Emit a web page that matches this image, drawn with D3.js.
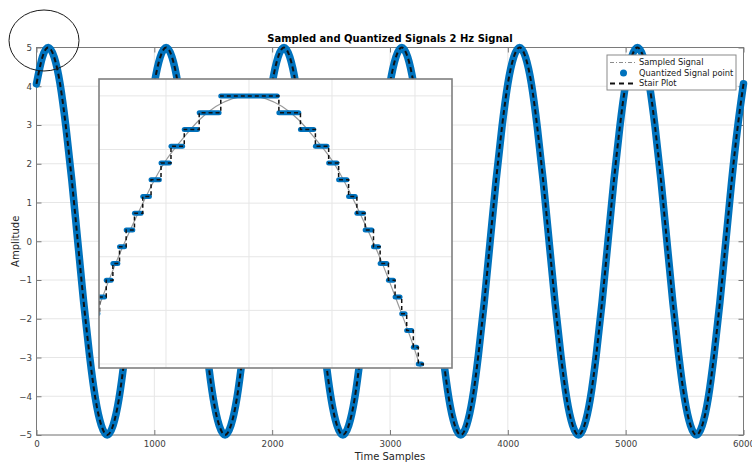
<!DOCTYPE html>
<html>
<head>
<meta charset="utf-8">
<script src="https://cdn.jsdelivr.net/npm/d3@7"></script>
<style>
  html, body { margin: 0; padding: 0; background: #fff; }
  svg { display: block; font-family: "DejaVu Sans", sans-serif; }
</style>
</head>
<body>
<svg id="chart" width="752" height="463"></svg>
<script>
// ---- overview signal: every 50th sample of the 6000-sample record ----
const sampleIndex = [
  0, 50, 100, 150, 200, 250, 300, 350, 400, 450, 500, 550, 600, 650, 700, 750, 800, 850, 900, 950,
  1000, 1050, 1100, 1150, 1200, 1250, 1300, 1350, 1400, 1450, 1500, 1550, 1600, 1650, 1700, 1750, 1800, 1850, 1900, 1950,
  2000, 2050, 2100, 2150, 2200, 2250, 2300, 2350, 2400, 2450, 2500, 2550, 2600, 2650, 2700, 2750, 2800, 2850, 2900, 2950,
  3000, 3050, 3100, 3150, 3200, 3250, 3300, 3350, 3400, 3450, 3500, 3550, 3600, 3650, 3700, 3750, 3800, 3850, 3900, 3950,
  4000, 4050, 4100, 4150, 4200, 4250, 4300, 4350, 4400, 4450, 4500, 4550, 4600, 4650, 4700, 4750, 4800, 4850, 4900, 4950,
  5000, 5050, 5100, 5150, 5200, 5250, 5300, 5350, 5400, 5450, 5500, 5550, 5600, 5650, 5700, 5750, 5800, 5850, 5900, 5950,
  6000
];
const sampledSignal = [
  4.05, 4.76, 5, 4.76, 4.05, 2.94, 1.55, 0, -1.55, -2.94, -4.05, -4.76, -5, -4.76, -4.05, -2.94, -1.55, 0, 1.55, 2.94,
  4.05, 4.76, 5, 4.76, 4.05, 2.94, 1.55, 0, -1.55, -2.94, -4.05, -4.76, -5, -4.76, -4.05, -2.94, -1.55, 0, 1.55, 2.94,
  4.05, 4.76, 5, 4.76, 4.05, 2.94, 1.55, 0, -1.55, -2.94, -4.05, -4.76, -5, -4.76, -4.05, -2.94, -1.55, 0, 1.55, 2.94,
  4.05, 4.76, 5, 4.76, 4.05, 2.94, 1.55, 0, -1.55, -2.94, -4.05, -4.76, -5, -4.76, -4.05, -2.94, -1.55, 0, 1.55, 2.94,
  4.05, 4.76, 5, 4.76, 4.05, 2.94, 1.55, 0, -1.55, -2.94, -4.05, -4.76, -5, -4.76, -4.05, -2.94, -1.55, 0, 1.55, 2.94,
  4.05, 4.76, 5, 4.76, 4.05, 2.94, 1.55, 0, -1.55, -2.94, -4.05, -4.76, -5, -4.76, -4.05, -2.94, -1.55, 0, 1.55, 2.94,
  4.05
];
const quantizedSignal = [
  4.0625, 4.75, 5, 4.75, 4.0625, 2.9375, 1.5625, 0, -1.5625, -2.9375, -4.0625, -4.75, -5, -4.75, -4.0625, -2.9375, -1.5625, 0, 1.5625, 2.9375,
  4.0625, 4.75, 5, 4.75, 4.0625, 2.9375, 1.5625, 0, -1.5625, -2.9375, -4.0625, -4.75, -5, -4.75, -4.0625, -2.9375, -1.5625, 0, 1.5625, 2.9375,
  4.0625, 4.75, 5, 4.75, 4.0625, 2.9375, 1.5625, 0, -1.5625, -2.9375, -4.0625, -4.75, -5, -4.75, -4.0625, -2.9375, -1.5625, 0, 1.5625, 2.9375,
  4.0625, 4.75, 5, 4.75, 4.0625, 2.9375, 1.5625, 0, -1.5625, -2.9375, -4.0625, -4.75, -5, -4.75, -4.0625, -2.9375, -1.5625, 0, 1.5625, 2.9375,
  4.0625, 4.75, 5, 4.75, 4.0625, 2.9375, 1.5625, 0, -1.5625, -2.9375, -4.0625, -4.75, -5, -4.75, -4.0625, -2.9375, -1.5625, 0, 1.5625, 2.9375,
  4.0625, 4.75, 5, 4.75, 4.0625, 2.9375, 1.5625, 0, -1.5625, -2.9375, -4.0625, -4.75, -5, -4.75, -4.0625, -2.9375, -1.5625, 0, 1.5625, 2.9375,
  4.0625
];
const xTicks = [0, 1000, 2000, 3000, 4000, 5000, 6000];
const yTicks = [-5, -4, -3, -2, -1, 0, 1, 2, 3, 4, 5];

// ---- magnified view of the first crest (samples ~10..220) ----
const detailSamples = [0, 10, 20, 30, 40, 50, 60, 70, 80, 90, 100, 110, 120, 130, 140, 150, 160, 170, 180, 190, 200, 210, 220, 230];
const detailSignal  = [4.05, 4.22, 4.38, 4.52, 4.65, 4.76, 4.84, 4.91, 4.96, 4.99, 5.00, 4.99, 4.96, 4.91, 4.84, 4.76, 4.65, 4.52, 4.38, 4.22, 4.05, 3.85, 3.64, 3.42];
// first sample of each quantization step and its level (step = 1/16)
const stepStart = [7, 10, 14, 18, 22, 26, 31, 36, 41, 47, 53, 61, 70, 83,
                   118, 131, 140, 148, 154, 160, 165, 170, 175, 179, 184, 188, 192, 195, 199, 202, 205, 208, 211];
const stepLevel = [4.1875, 4.25, 4.3125, 4.375, 4.4375, 4.5, 4.5625, 4.625, 4.6875, 4.75, 4.8125, 4.875, 4.9375, 5,
                   4.9375, 4.875, 4.8125, 4.75, 4.6875, 4.625, 4.5625, 4.5, 4.4375, 4.375, 4.3125, 4.25, 4.1875, 4.125, 4.0625, 4.0, 3.9375, 3.875, 3.8125];
const stepEnd = 214;
const detailGridX = [50, 100, 150, 200];
const detailGridY = [4.0, 4.2, 4.4, 4.6, 4.8, 5.0];

const legendLabels = ["Sampled Signal", "Quantized Signal point", "Stair Plot"];

// ---- styling ----
const BLUE = "#0072BD";
const GRID = "#e6e6e6";
const AXIS = "#7a7a7a";
const TICKTXT = "#404040";

const svg = d3.select("#chart");

const plot = { left: 36.5, right: 743.5, top: 47.5, bottom: 435 };
const x = d3.scaleLinear().domain([0, 6000]).range([plot.left, plot.right]);
const y = d3.scaleLinear().domain([-5, 5]).range([plot.bottom, plot.top]);

// grid
const grid = svg.append("g");
grid.selectAll("line.gx").data(xTicks).join("line")
  .attr("x1", d => x(d)).attr("x2", d => x(d))
  .attr("y1", plot.top).attr("y2", plot.bottom)
  .attr("stroke", GRID).attr("stroke-width", 1);
grid.selectAll("line.gy").data(yTicks).join("line")
  .attr("x1", plot.left).attr("x2", plot.right)
  .attr("y1", d => y(d)).attr("y2", d => y(d))
  .attr("stroke", GRID).attr("stroke-width", 1);

// axes with inward ticks
function styleAxis(g) {
  g.select(".domain").remove();
  g.selectAll(".tick line").attr("stroke", AXIS);
  g.selectAll(".tick text").attr("fill", TICKTXT).attr("font-size", "8.7px")
    .attr("font-family", "DejaVu Sans, sans-serif");
}
svg.append("g").attr("transform", `translate(0,${plot.bottom})`)
  .call(d3.axisBottom(x).tickValues(xTicks).tickFormat(d3.format("d")).tickSize(-5).tickPadding(6.3))
  .call(styleAxis);
svg.append("g").attr("transform", `translate(${plot.left},0)`)
  .call(d3.axisLeft(y).tickValues(yTicks).tickFormat(d3.format("d")).tickSize(-5).tickPadding(4.5))
  .call(styleAxis);
svg.append("g").attr("transform", `translate(0,${plot.top})`)
  .call(d3.axisTop(x).tickValues(xTicks).tickFormat("").tickSize(-5))
  .call(styleAxis);
svg.append("g").attr("transform", `translate(${plot.right},0)`)
  .call(d3.axisRight(y).tickValues(yTicks).tickFormat("").tickSize(-5))
  .call(styleAxis);

svg.append("rect")
  .attr("x", plot.left).attr("y", plot.top)
  .attr("width", plot.right - plot.left).attr("height", plot.bottom - plot.top)
  .attr("fill", "none").attr("stroke", AXIS).attr("stroke-width", 1);

// signals
const mainLine = d3.line()
  .x((d, i) => x(sampleIndex[i]))
  .y(d => y(d))
  .curve(d3.curveNatural);

svg.append("path").datum(sampledSignal).attr("d", mainLine)
  .attr("fill", "none").attr("stroke", "#8c8c8c").attr("stroke-width", 1)
  .attr("stroke-dasharray", "4,2,1,2");
svg.append("path").datum(quantizedSignal).attr("d", mainLine)
  .attr("fill", "none").attr("stroke", BLUE).attr("stroke-width", 7.5)
  .attr("stroke-linecap", "round").attr("stroke-linejoin", "round");
svg.append("path").datum(quantizedSignal).attr("d", mainLine)
  .attr("fill", "none").attr("stroke", "#111").attr("stroke-width", 2)
  .attr("stroke-dasharray", "5,3.5");

// title and axis labels
svg.append("text").attr("x", (plot.left + plot.right) / 2).attr("y", 42)
  .attr("text-anchor", "middle").attr("font-size", "10px").attr("font-weight", "bold")
  .attr("fill", "#000").text("Sampled and Quantized Signals 2 Hz Signal");
svg.append("text").attr("x", (plot.left + plot.right) / 2).attr("y", 460)
  .attr("text-anchor", "middle").attr("font-size", "10px").attr("fill", "#262626")
  .text("Time Samples");
svg.append("text").attr("transform", `translate(18.5,${(plot.top + plot.bottom) / 2}) rotate(-90)`)
  .attr("text-anchor", "middle").attr("font-size", "10px").attr("fill", "#262626")
  .text("Amplitude");

// highlight around the first crest
svg.append("ellipse").attr("cx", 44).attr("cy", 40.5).attr("rx", 35).attr("ry", 30.5)
  .attr("fill", "none").attr("stroke", "#1a1a1a").attr("stroke-width", 1);

// ---- magnified inset ----
const box = { left: 99, right: 452, top: 79, bottom: 368 };
const ix = d3.scaleLinear().domain([9.64, 222.3]).range([box.left, box.right]);
const iy = d3.scaleLinear().domain([3.985, 5.063]).range([box.bottom, box.top]);

svg.append("defs").append("clipPath").attr("id", "insetClip")
  .append("rect").attr("x", box.left).attr("y", box.top)
  .attr("width", box.right - box.left).attr("height", box.bottom - box.top);

const inset = svg.append("g");
inset.append("rect").attr("x", box.left).attr("y", box.top)
  .attr("width", box.right - box.left).attr("height", box.bottom - box.top)
  .attr("fill", "#fff");
inset.selectAll("line.igx").data(detailGridX).join("line")
  .attr("x1", d => ix(d)).attr("x2", d => ix(d))
  .attr("y1", box.top).attr("y2", box.bottom)
  .attr("stroke", GRID).attr("stroke-width", 1);
inset.selectAll("line.igy").data(detailGridY).join("line")
  .attr("x1", box.left).attr("x2", box.right)
  .attr("y1", d => iy(d)).attr("y2", d => iy(d))
  .attr("stroke", GRID).attr("stroke-width", 1);

const clipped = inset.append("g").attr("clip-path", "url(#insetClip)");
clipped.append("path").datum(detailSignal)
  .attr("d", d3.line().x((d, i) => ix(detailSamples[i])).y(d => iy(d)).curve(d3.curveNatural))
  .attr("fill", "none").attr("stroke", "#9a9a9a").attr("stroke-width", 1.2);

// quantized samples within each step, merged into one rounded run
const steps = stepStart.map((s, i) => ({
  from: s,
  to: (i + 1 < stepStart.length ? stepStart[i + 1] : stepEnd) - 1,
  level: stepLevel[i]
}));
clipped.selectAll("line.q").data(steps).join("line")
  .attr("x1", d => ix(d.from)).attr("x2", d => ix(d.to))
  .attr("y1", d => iy(d.level)).attr("y2", d => iy(d.level))
  .attr("stroke", BLUE).attr("stroke-width", 5).attr("stroke-linecap", "round");

const stairPts = stepStart.map((s, i) => [s, stepLevel[i]]);
stairPts.push([stepEnd, stepLevel[stepLevel.length - 1]]);
clipped.append("path").datum(stairPts)
  .attr("d", d3.line().x(d => ix(d[0])).y(d => iy(d[1])).curve(d3.curveStepAfter))
  .attr("fill", "none").attr("stroke", "#111").attr("stroke-width", 1.5)
  .attr("stroke-dasharray", "4,3");

inset.append("rect").attr("x", box.left).attr("y", box.top)
  .attr("width", box.right - box.left).attr("height", box.bottom - box.top)
  .attr("fill", "none").attr("stroke", "#7f7f7f").attr("stroke-width", 1.6);

// ---- legend ----
const lg = svg.append("g");
lg.append("rect").attr("x", 607).attr("y", 55).attr("width", 129).attr("height", 35)
  .attr("fill", "#fff").attr("stroke", "#8a8a8a").attr("stroke-width", 1);
const rowY = [62.5, 73, 83.5];
lg.append("line").attr("x1", 610).attr("x2", 637).attr("y1", rowY[0]).attr("y2", rowY[0])
  .attr("stroke", "#8c8c8c").attr("stroke-width", 1).attr("stroke-dasharray", "4,2,1,2");
lg.append("circle").attr("cx", 623.5).attr("cy", rowY[1]).attr("r", 3.5).attr("fill", BLUE);
lg.append("line").attr("x1", 610).attr("x2", 637).attr("y1", rowY[2]).attr("y2", rowY[2])
  .attr("stroke", "#111").attr("stroke-width", 2).attr("stroke-dasharray", "5,4");
lg.selectAll("text").data(legendLabels).join("text")
  .attr("x", 639).attr("y", (d, i) => rowY[i]).attr("dy", "0.35em")
  .attr("font-size", "8.3px").attr("fill", "#1a1a1a").text(d => d);
</script>
</body>
</html>
